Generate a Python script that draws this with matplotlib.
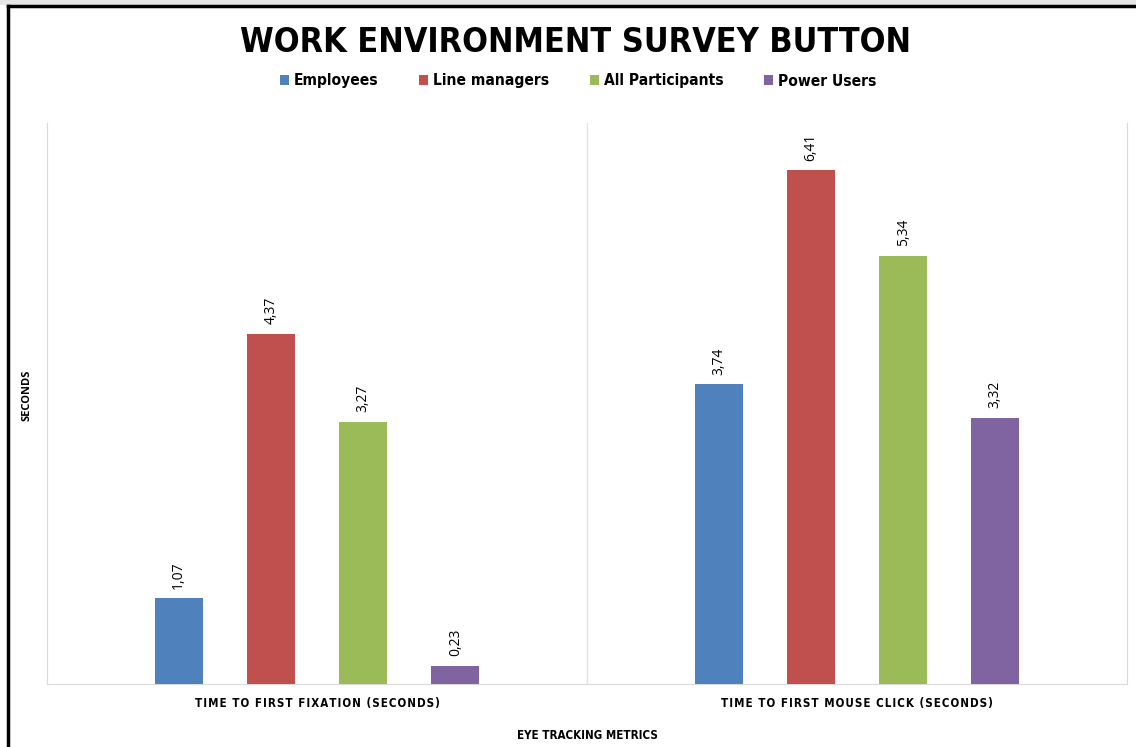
import matplotlib.pyplot as plt
import numpy as np
from matplotlib.lines import Line2D
from matplotlib.patches import Rectangle

categories = ['TIME TO FIRST FIXATION (SECONDS)', 'TIME TO FIRST MOUSE CLICK (SECONDS)']
groups = ['Employees', 'Line managers', 'All Participants', 'Power Users']
values = {
    'Employees': [1.07, 3.74],
    'Line managers': [4.37, 6.41],
    'All Participants': [3.27, 5.34],
    'Power Users': [0.23, 3.32],
}
colors = ['#4F81BD', '#C0504D', '#9BBB59', '#8064A2']

plt.rcParams['font.family'] = ['DejaVu Sans']
plt.rcParams['font.stretch'] = 'condensed'


def spaced(s):
    # loose letter spacing for the category labels
    return '\u200a'.join(s)


fig = plt.figure(figsize=(11.36, 7.47), dpi=100)
ax = fig.add_axes([47 / 1136, 1 - 684 / 747, 1080 / 1136, 561 / 747])

x = np.arange(len(categories))
step = 0.1707
width = 0.089
for i, g in enumerate(groups):
    pos = x + (i - 1.5) * step
    bars = ax.bar(pos, values[g], width, color=colors[i], label=g, zorder=3)
    for b, v in zip(bars, values[g]):
        ax.annotate(f'{v:.2f}'.replace('.', ','),
                    (b.get_x() + b.get_width() / 2, v),
                    xytext=(0, 7), textcoords='offset points',
                    rotation=90, ha='center', va='bottom',
                    fontsize=10, fontstretch='normal',
                    family=['Open Sans', 'DejaVu Sans'])

ax.set_xlim(-0.5, 1.5)
ax.set_ylim(0, 7)
ax.set_yticks([])
ax.set_xticks(x)
ax.set_xticklabels([spaced(c) for c in categories], fontsize=8.3, fontweight='bold')
ax.tick_params(axis='x', length=0, pad=9)
ax.axvline(0.5, color='#e3e3e3', lw=1, zorder=1)
for side in ['left', 'right', 'bottom']:
    ax.spines[side].set_color('#d9d9d9')
ax.spines['top'].set_visible(False)

ax.set_xlabel('EYE TRACKING METRICS', fontsize=8.3, fontweight='bold', labelpad=14)
fig.text(27 / 1136, 1 - 395 / 747, 'SECONDS', rotation=90, ha='center', va='center',
         fontsize=8, fontweight='bold', fontstretch='normal',
         family=['Open Sans', 'DejaVu Sans'])

fig.text(576 / 1136, 1 - 43 / 747, 'WORK ENVIRONMENT SURVEY BUTTON',
         ha='center', va='center', fontsize=24.5, fontweight='bold')

fig.legend(loc='center', bbox_to_anchor=(578 / 1136, 1 - 81 / 747), ncol=4,
           frameon=False, handlelength=0.6, handleheight=0.6, handletextpad=0.3,
           columnspacing=2.6, prop={'size': 11.2, 'weight': 'bold'})

# outer frame
fig.patches.append(Rectangle((0, 1 - 4 / 747), 1, 4 / 747, transform=fig.transFigure,
                             color='#e6e6e6', zorder=0))
fig.lines.append(Line2D([8 / 1136, 1], [1 - 6 / 747, 1 - 6 / 747],
                        transform=fig.transFigure, color='black', lw=2.5))
fig.lines.append(Line2D([8 / 1136, 8 / 1136], [0, 1 - 6 / 747],
                        transform=fig.transFigure, color='black', lw=2.5))

fig.savefig('out.png', dpi=100)
